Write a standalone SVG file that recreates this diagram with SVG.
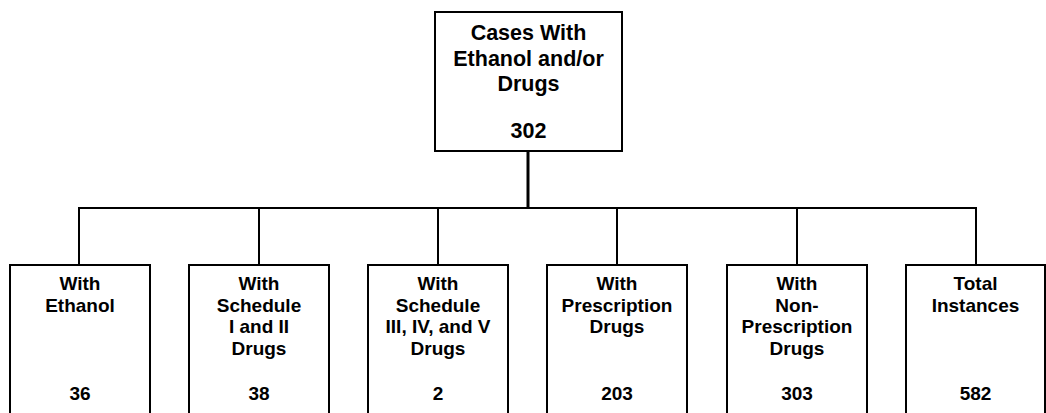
<svg xmlns="http://www.w3.org/2000/svg" width="1046" height="413" viewBox="0 0 1046 413">
<style>
.box{fill:#fff;stroke:#000;stroke-width:2}
.t{font-family:"Liberation Sans",Arial,sans-serif;font-weight:bold;font-size:19px;text-anchor:middle;fill:#000}
.tt{font-family:"Liberation Sans",Arial,sans-serif;font-weight:bold;font-size:21.5px;text-anchor:middle;fill:#000}
.ln{fill:none;stroke:#000;stroke-width:2}
</style>
<rect width="1046" height="413" fill="#fff"/>
<g id="connectors">
<line x1="528" y1="151" x2="528" y2="208" stroke="#000" stroke-width="3"/>
<polyline class="ln" points="79,265 79,208 976,208 976,265"/>
<line class="ln" x1="259" y1="208" x2="259" y2="265"/>
<line class="ln" x1="438" y1="208" x2="438" y2="265"/>
<line class="ln" x1="617" y1="208" x2="617" y2="265"/>
<line class="ln" x1="797" y1="208" x2="797" y2="265"/>
</g>
<g id="root">
<rect class="box" x="435" y="12" width="187" height="139"/>
<text class="tt" x="528.5" y="40">Cases With</text>
<text class="tt" x="528.5" y="66">Ethanol and/or</text>
<text class="tt" x="528.5" y="91">Drugs</text>
<text class="tt" x="528.5" y="138">302</text>
</g>
<g id="ethanol">
<rect class="box" x="10" y="265" width="140" height="160"/>
<text class="t" x="80" y="290">With</text>
<text class="t" x="80" y="311.5">Ethanol</text>
<text class="t" x="80" y="400">36</text>
</g>
<g id="sched12">
<rect class="box" x="189" y="265" width="140" height="160"/>
<text class="t" x="259" y="290">With</text>
<text class="t" x="259" y="311.5">Schedule</text>
<text class="t" x="259" y="333">I and II</text>
<text class="t" x="259" y="354.5">Drugs</text>
<text class="t" x="259" y="400">38</text>
</g>
<g id="sched345">
<rect class="box" x="368" y="265" width="140" height="160"/>
<text class="t" x="438" y="290">With</text>
<text class="t" x="438" y="311.5">Schedule</text>
<text class="t" x="438" y="333">III, IV, and V</text>
<text class="t" x="438" y="354.5">Drugs</text>
<text class="t" x="438" y="400">2</text>
</g>
<g id="prescription">
<rect class="box" x="547" y="265" width="140" height="160"/>
<text class="t" x="617" y="290">With</text>
<text class="t" x="617" y="311.5">Prescription</text>
<text class="t" x="617" y="333">Drugs</text>
<text class="t" x="617" y="400">203</text>
</g>
<g id="nonprescription">
<rect class="box" x="727" y="265" width="140" height="160"/>
<text class="t" x="797" y="290">With</text>
<text class="t" x="797" y="311.5">Non-</text>
<text class="t" x="797" y="333">Prescription</text>
<text class="t" x="797" y="354.5">Drugs</text>
<text class="t" x="797" y="400">303</text>
</g>
<g id="total">
<rect class="box" x="906" y="265" width="139" height="160"/>
<text class="t" x="975.5" y="290">Total</text>
<text class="t" x="975.5" y="311.5">Instances</text>
<text class="t" x="975.5" y="400">582</text>
</g>
</svg>
